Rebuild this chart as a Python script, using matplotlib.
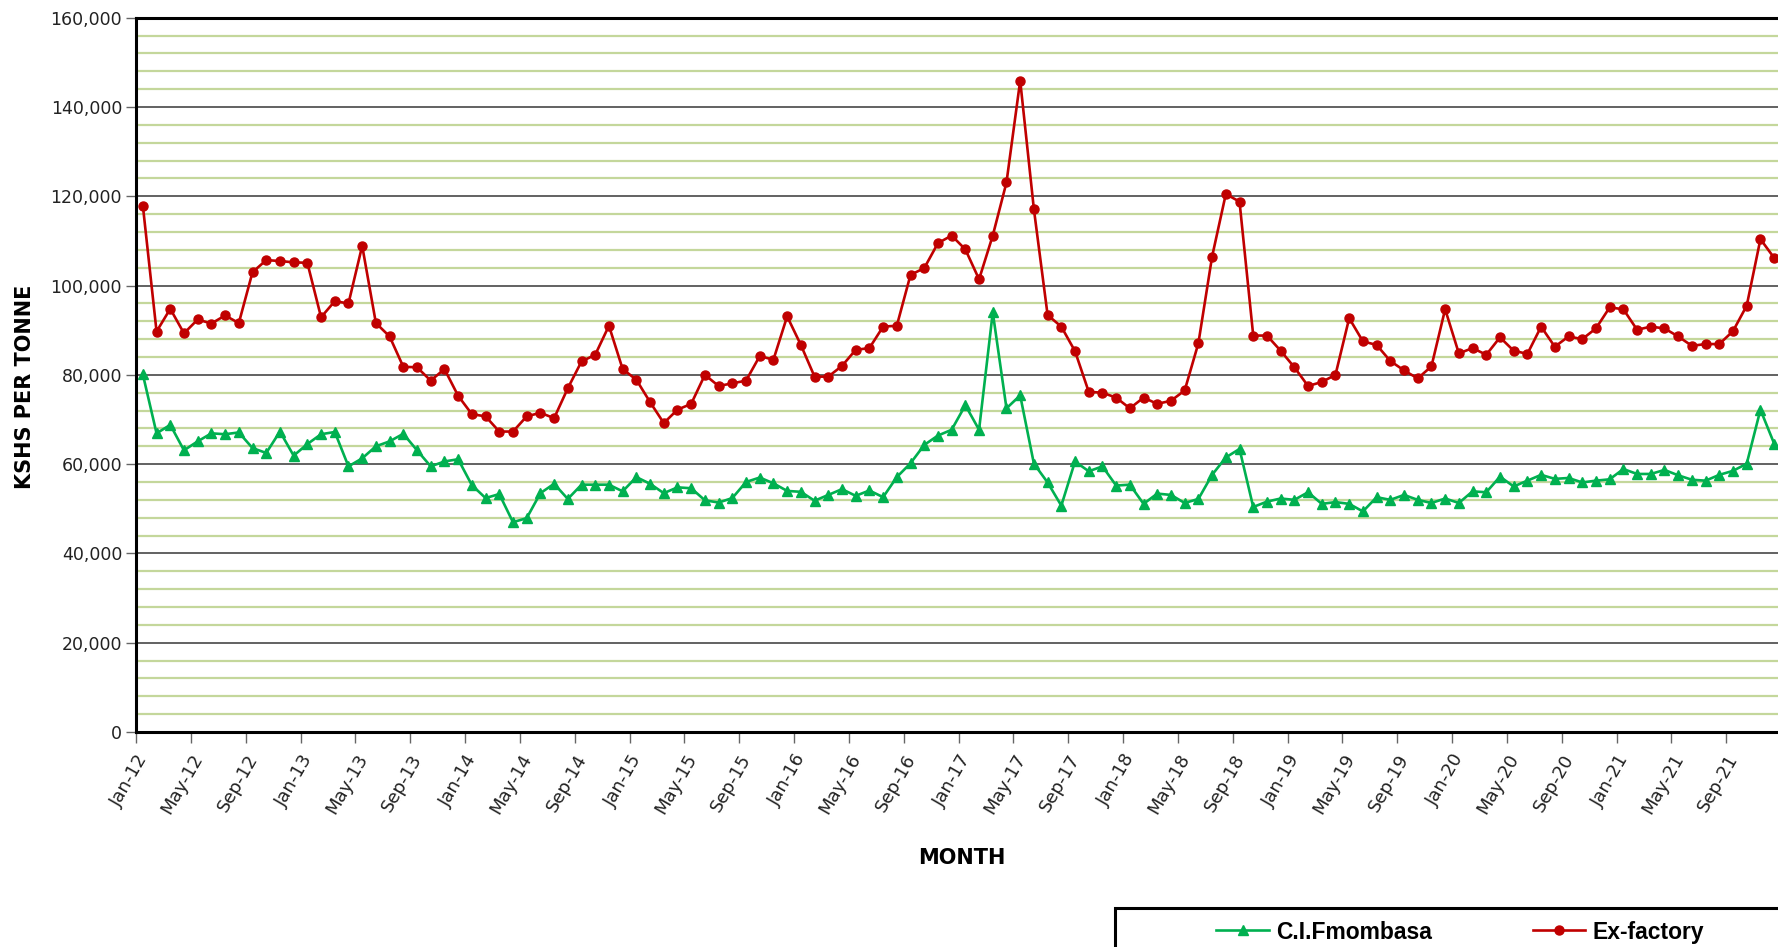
import numpy as np
import pandas as pd
import matplotlib
matplotlib.use("Agg")
import matplotlib.pyplot as plt
import matplotlib.transforms as mtransforms
from matplotlib.patches import Rectangle

# ----------------------------------
# Data (KSHS per tonne, Jan-12 .. Dec-21)
# ----------------------------------
months = pd.date_range("2012-01-01", periods=120, freq="MS").strftime("%b-%y")

ex_factory = [
    117900, 89700, 94800, 89300, 92400, 91500, 93300, 91600, 103000, 105700, 105500, 105200,
    105100, 92900, 96500, 96000, 108900, 91600, 88600, 81800, 81700, 78700, 81300, 75300,
    71200, 70700, 67300, 67300, 70700, 71500, 70300, 77000, 83000, 84500, 91000, 81300,
    78900, 73900, 69200, 72200, 73500, 80000, 77500, 78100, 78700, 84200, 83400, 93100,
    86700, 79600, 79600, 82000, 85600, 86000, 90800, 91000, 102400, 103900, 109500, 111200,
    108100, 101400, 111200, 123100, 145900, 117100, 93400, 90800, 85300, 76200, 76000, 74900,
    72500, 74900, 73500, 74200, 76500, 87100, 106500, 120500, 118800, 88800, 88800, 85400,
    81700, 77500, 78400, 80000, 92700, 87500, 86700, 83100, 81000, 79200, 81900, 94700,
    84800, 86000, 84500, 88400, 85400, 84700, 90800, 86300, 88600, 88000, 90400, 95100,
    94700, 90100, 90800, 90400, 88600, 86500, 86900, 86900, 89800, 95500, 110400, 106200,
]

cif_mombasa = [
    80100, 66900, 68800, 63100, 65100, 66900, 66700, 67100, 63600, 62500, 67300, 61900,
    64500, 66700, 67200, 59500, 61300, 64000, 65100, 66800, 63100, 59500, 60600, 61100,
    55300, 52400, 53300, 47000, 47900, 53500, 55600, 52200, 55400, 55400, 55400, 53900,
    57100, 55600, 53500, 54800, 54600, 51900, 51400, 52400, 56000, 57000, 55700, 54000,
    53800, 51800, 53100, 54400, 52900, 54100, 52600, 57100, 60200, 64300, 66400, 67700,
    73200, 67700, 94000, 72500, 75400, 60100, 55900, 50700, 60600, 58400, 59500, 55200,
    55400, 51100, 53400, 53100, 51300, 52200, 57600, 61500, 63400, 50400, 51600, 52300,
    52000, 53700, 51100, 51500, 51100, 49400, 52600, 52000, 53100, 52000, 51300, 52300,
    51300, 53900, 53700, 57200, 55000, 56300, 57600, 56700, 56900, 55900, 56300, 56600,
    58900, 57800, 57800, 58700, 57500, 56500, 56300, 57600, 58500, 60100, 72200, 64600,
]

# ----------------------------------
# Figure
# ----------------------------------
W, H = 1778, 947
fig = plt.figure(figsize=(W / 100, H / 100), dpi=100)
ax = fig.add_axes([136 / W, 1 - 732 / H, (1781 - 136) / W, (732 - 17.7) / H])

x = np.arange(len(months)) + 0.5
ax.plot(x, cif_mombasa, color="#00b050", marker="^", ms=7, lw=1.9,
        label="C.I.Fmombasa", zorder=3)
ax.plot(x, ex_factory, color="#c00000", marker="o", ms=6.5, lw=1.9,
        label="Ex-factory", zorder=3)

ax.set_xlim(0, len(months))
ax.set_ylim(0, 160000)

# y axis: majors every 20,000, light green minors every 4,000
ax.set_yticks(np.arange(0, 160001, 20000))
ax.set_yticks(np.arange(0, 160001, 4000), minor=True)
ax.yaxis.grid(True, which="minor", color="#c4d79b", lw=1.6)
ax.yaxis.grid(True, which="major", color="#555555", lw=1.3)
ax.set_axisbelow(True)
ax.set_yticklabels([f"{v:,.0f}" for v in np.arange(0, 160001, 20000)],
                   fontsize=12.5, color="#222222")
ax.tick_params(axis="y", which="major", length=7, width=1, color="#666666", pad=3)
ax.tick_params(axis="y", which="minor", length=0)

# x axis: tick every 4 months at the category boundary
xt = np.arange(0, len(months), 4)
ax.set_xticks(xt)
ax.set_xticklabels([months[i] for i in xt], rotation=60, ha="right", va="center",
                   rotation_mode="anchor", fontsize=13, color="#222222")
ax.tick_params(axis="x", which="major", length=8, width=1, color="#666666", pad=9)
shift = mtransforms.ScaledTranslation(8 / 100, 0, fig.dpi_scale_trans)
for lab in ax.get_xticklabels():
    lab.set_transform(lab.get_transform() + shift)

for side in ["left", "bottom", "top"]:
    ax.spines[side].set_linewidth(2.2)
    ax.spines[side].set_color("black")
ax.spines["right"].set_visible(False)

fig.text(25 / W, 1 - 387 / H, "KSHS PER TONNE", fontsize=15, fontweight="bold",
         rotation=90, ha="center", va="center")
fig.text(962 / W, 1 - 858 / H, "MONTH", fontsize=15, fontweight="bold",
         ha="center", va="center")

# ----------------------------------
# Legend box (cut off at the bottom right)
# ----------------------------------
fig.patches.append(Rectangle((1115 / W, -0.05), 0.5, (947 - 908) / H + 0.05,
                             transform=fig.transFigure, fill=False,
                             ec="black", lw=2.2))
fig.legend(loc="center", bbox_to_anchor=(1460 / W, 1 - 932 / H), ncol=2,
           frameon=False, handlelength=2.3, columnspacing=4.4, handletextpad=0.3,
           prop={"family": "Liberation Sans", "weight": "bold", "size": 16.5})

fig.savefig("out.png", dpi=100)
